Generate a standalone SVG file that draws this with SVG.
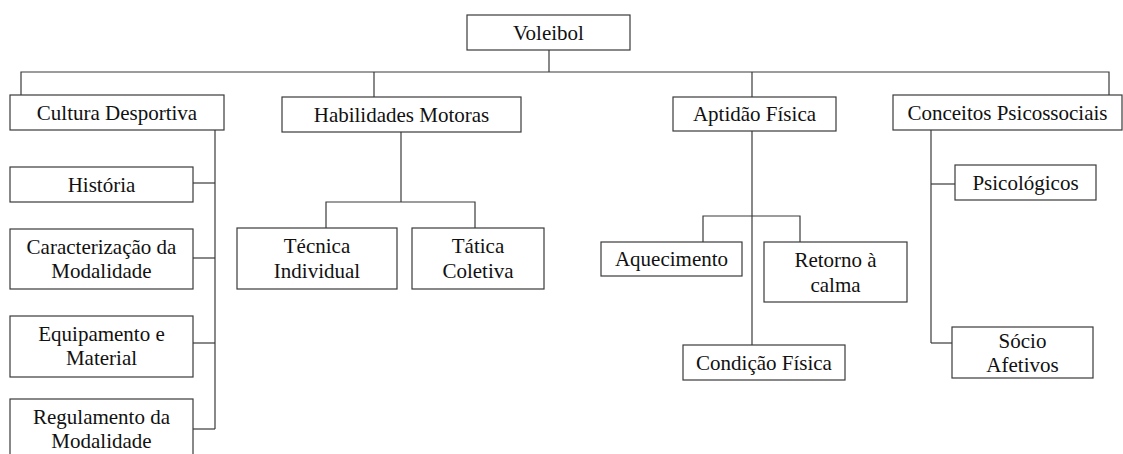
<svg xmlns="http://www.w3.org/2000/svg" width="1123" height="454" viewBox="0 0 1123 454">
  <style>
    .box { fill: #ffffff; stroke: #3a3a3a; stroke-width: 1.2; }
    .lbl { font-family: Liberation Serif, serif; font-size: 21px; fill: #111111; text-anchor: middle; }
    .edge { fill: none; stroke: #3a3a3a; stroke-width: 1.2; }
  </style>
  <rect width="1123" height="454" fill="#ffffff"/>

  <!-- connectors -->
  <g id="connectors" class="edge">
    <path d="M549 50 V72"/>
    <path d="M21 95 V72 H1109 V95"/>
    <path d="M374 72 V97"/>
    <path d="M752 72 V97"/>
    <!-- Cultura Desportiva branch -->
    <path d="M215 130 V429"/>
    <path d="M193 183 H215"/>
    <path d="M193 258 H215"/>
    <path d="M193 343 H215"/>
    <path d="M193 429 H215"/>
    <!-- Habilidades Motoras branch -->
    <path d="M401 132 V202"/>
    <path d="M326 228 V202 H475 V228"/>
    <!-- Aptidão Física branch -->
    <path d="M752 131 V345"/>
    <path d="M703 242 V216 H800 V242"/>
    <!-- Conceitos Psicossociais branch -->
    <path d="M931 130 V343"/>
    <path d="M931 184 H955"/>
    <path d="M931 343 H952"/>
  </g>

  <g id="voleibol">
    <rect class="box" x="467" y="15" width="163" height="35"/>
    <text class="lbl" x="548.5" y="40">Voleibol</text>
  </g>

  <g id="cultura-desportiva">
    <rect class="box" x="10" y="95" width="214" height="35"/>
    <text class="lbl" x="117" y="120">Cultura Desportiva</text>
  </g>
  <g id="habilidades-motoras">
    <rect class="box" x="282" y="97" width="239" height="35"/>
    <text class="lbl" x="401.5" y="122">Habilidades Motoras</text>
  </g>
  <g id="aptidao-fisica">
    <rect class="box" x="673" y="97" width="163" height="34"/>
    <text class="lbl" x="754.5" y="121">Aptidão Física</text>
  </g>
  <g id="conceitos-psicossociais">
    <rect class="box" x="893" y="95" width="229" height="35"/>
    <text class="lbl" x="1007.5" y="120">Conceitos Psicossociais</text>
  </g>

  <g id="historia">
    <rect class="box" x="10" y="167" width="183" height="35"/>
    <text class="lbl" x="101.5" y="192">História</text>
  </g>
  <g id="caracterizacao">
    <rect class="box" x="10" y="229" width="183" height="60"/>
    <text class="lbl" x="101.5" y="254">Caracterização da</text>
    <text class="lbl" x="101.5" y="278">Modalidade</text>
  </g>
  <g id="equipamento">
    <rect class="box" x="10" y="316" width="183" height="61"/>
    <text class="lbl" x="101.5" y="341">Equipamento e</text>
    <text class="lbl" x="101.5" y="365">Material</text>
  </g>
  <g id="regulamento">
    <rect class="box" x="10" y="399" width="183" height="62"/>
    <text class="lbl" x="101.5" y="424">Regulamento da</text>
    <text class="lbl" x="101.5" y="448">Modalidade</text>
  </g>

  <g id="tecnica-individual">
    <rect class="box" x="237" y="228" width="160" height="61"/>
    <text class="lbl" x="317" y="253">Técnica</text>
    <text class="lbl" x="317" y="278">Individual</text>
  </g>
  <g id="tatica-coletiva">
    <rect class="box" x="412" y="228" width="132" height="61"/>
    <text class="lbl" x="478" y="253">Tática</text>
    <text class="lbl" x="478" y="278">Coletiva</text>
  </g>

  <g id="aquecimento">
    <rect class="box" x="601" y="242" width="141" height="34"/>
    <text class="lbl" x="671.5" y="266">Aquecimento</text>
  </g>
  <g id="retorno-calma">
    <rect class="box" x="764" y="242" width="143" height="60"/>
    <text class="lbl" x="835.5" y="267">Retorno à</text>
    <text class="lbl" x="835.5" y="292">calma</text>
  </g>
  <g id="condicao-fisica">
    <rect class="box" x="683" y="345" width="162" height="35"/>
    <text class="lbl" x="764" y="370">Condição Física</text>
  </g>

  <g id="psicologicos">
    <rect class="box" x="955" y="165" width="141" height="35"/>
    <text class="lbl" x="1025.5" y="190">Psicológicos</text>
  </g>
  <g id="socio-afetivos">
    <rect class="box" x="952" y="327" width="141" height="51"/>
    <text class="lbl" x="1022.5" y="348">Sócio</text>
    <text class="lbl" x="1022.5" y="372">Afetivos</text>
  </g>
</svg>
